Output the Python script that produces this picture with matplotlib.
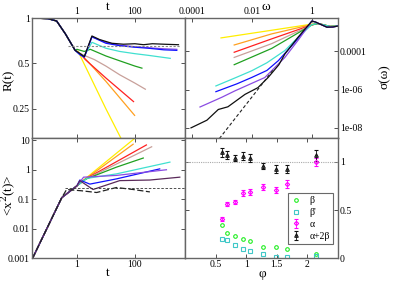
import numpy as np
import matplotlib
matplotlib.use("Agg")
import matplotlib.pyplot as plt
from matplotlib.ticker import FixedLocator, FixedFormatter, NullLocator

plt.rcParams['font.family'] = ['Liberation Serif', 'DejaVu Serif']
plt.rcParams['mathtext.fontset'] = 'dejavuserif'

# ---------------- data ----------------
colors = {'yellow': '#ffee00', 'orange': '#ffa020', 'red': '#ff2020', 'rosy': '#c8a09a',
          'green': '#20a020', 'cyan': '#40e0d0', 'purple': '#8a4be2', 'blue': '#1010ff',
          'black': '#101010', 'darkpurple': '#5a2a5a'}

# R(t) panel
R_t0 = [0.028, 0.1, 0.2, 0.4, 0.87]
R_v0 = [1.0, 0.99, 0.955, 0.785, 0.61]
R_tails = {
    'yellow': ([1.1, 10, 100], [0.6, 0.25, 0.105]),
    'orange': ([1.4, 10, 98], [0.575, 0.38, 0.226]),
    'red': ([1.3, 1.95, 10, 90], [0.58, 0.53, 0.40, 0.279]),
    'rosy': ([1.3, 2.0, 4.0, 10, 30, 100, 230], [0.58, 0.56, 0.53, 0.48, 0.42, 0.37, 0.337]),
    'green': ([1.0, 1.8, 2.9, 10, 30, 100, 175], [0.62, 0.60, 0.62, 0.56, 0.52, 0.48, 0.465]),
    'cyan': ([1.3, 1.8, 3.3, 10, 30, 100, 300, 1660], [0.57, 0.56, 0.69, 0.63, 0.60, 0.58, 0.565, 0.54]),
    'purple': ([1.3, 1.8, 3.3, 10, 30, 100, 300, 1000, 2800], [0.57, 0.55, 0.75, 0.69, 0.66, 0.645, 0.635, 0.625, 0.62]),
    'blue': ([1.3, 1.8, 3.3, 10, 30, 100, 300, 1000, 2800], [0.57, 0.55, 0.75, 0.68, 0.655, 0.64, 0.63, 0.615, 0.61]),
    'black': ([1.3, 1.8, 3.3, 6, 16, 40, 100, 200, 400, 1000, 3200],
              [0.58, 0.555, 0.76, 0.72, 0.68, 0.67, 0.675, 0.665, 0.675, 0.67, 0.665]),
}
R_plateau = 0.657

# sigma(omega) panel (log10 values)
S_tail_w = [0.0, 0.2, 0.4, 0.6, 0.87]
S_tail_s = [-2.58, -2.55, -2.62, -2.70, -2.68]
S_peak_w = [0.0, 0.12, 0.3, 0.5, 0.7, 0.87]
S_peak_s = [-2.42, -2.47, -2.60, -2.74, -2.73, -2.68]
S_curves = {
    'yellow': ([-3.03, -1.34, 0.0], [-3.30, -2.90, -2.58]),
    'orange': ([-2.59, -1.34, 0.0], [-3.67, -3.09, -2.60]),
    'red': ([-2.59, -1.34, 0.0], [-4.05, -3.35, -2.62]),
    'rosy': ([-2.59, -1.34, 0.0], [-4.32, -3.60, -2.62]),
    'green': ([-2.59, -1.34, 0.0], [-4.70, -3.85, -2.62]),
    'cyan': ([-3.2, -2.5, -2.01, -1.5, -0.9, -0.57, 0.0], [-5.81, -5.35, -5.02, -4.6, -3.96, -3.44, -2.6]),
    'blue': ([-3.2, -2.5, -2.01, -1.5, -1.12, -0.57], [-6.11, -5.7, -5.37, -5.0, -4.49, -3.53]),
    'purple': ([-3.73, -3.0, -2.57, -1.57, -0.9, -0.45], [-6.91, -6.4, -6.07, -5.37, -4.32, -3.4]),
    'black': ([-4.03, -3.5, -3.12, -2.8, -2.23, -1.8, -1.46, -1.1, -0.9, -0.46],
              [-8.0, -7.6, -7.04, -6.9, -6.25, -5.9, -5.37, -4.7, -4.14, -3.26]),
}
S_dash_w = [-3.2, -1.3]
S_dash_s = [-8.79, -4.99]

# <x^2(t)> panel
X_t0 = [0.029, 0.3, 1.0]
X_v0 = [0.00095, 0.111, 0.28]
X_tails = {
    'yellow': ([2.0, 100], [0.5, 11.5]),
    'orange': ([2.0, 87], [0.48, 7.2]),
    'red': ([2.0, 250], [0.48, 6.8]),
    'rosy': ([2.0, 380], [0.47, 5.9]),
    'green': ([2.0, 23, 195], [0.47, 1.2, 2.45]),
    'cyan': ([2.2, 23, 1620], [0.5, 0.71, 1.78]),
    'blue': ([1.26, 2.8, 23, 720], [0.44, 0.32, 0.48, 1.05]),
    'purple': ([1.7, 23, 1230], [0.55, 0.63, 0.98]),
    'darkpurple': ([1.26, 3.6, 30, 330, 3550], [0.42, 0.21, 0.42, 0.44, 0.55]),
}
X_dash_t = [0.029, 0.3, 0.44, 1.45, 4.8, 23, 87, 330]
X_dash_v = [0.00095, 0.111, 0.21, 0.19, 0.166, 0.245, 0.21, 0.174]
X_plateau = 0.235

# exponents panel
phi = [0.60, 0.69, 0.81, 0.95, 1.07, 1.27, 1.48, 1.67, 2.14]
beta = [0.34, 0.26, 0.23, 0.20, 0.18, 0.11, 0.11, 0.09, 0.04]
beta_p = [0.20, 0.19, 0.135, 0.09, 0.07, 0.04, 0.015, 0.015, 0.02]
alpha = [0.41, 0.56, 0.58, 0.68, 0.69, 0.74, 0.71, 0.77, 1.0]
alpha_err = [0.02, 0.02, 0.02, 0.03, 0.03, 0.03, 0.03, 0.04, 0.04]
a2b = [1.10, 1.07, 1.04, 1.06, 1.04, 0.96, 0.93, 0.93, 1.07]
a2b_err = [0.05, 0.04, 0.03, 0.04, 0.04, 0.03, 0.04, 0.04, 0.06]

# ---------------- figure ----------------
W, H = 399, 282
fig = plt.figure(figsize=(W/100, H/100), dpi=100)
L, M, R_ = 32/W, 185/W, 338/W
B, C, T = 1-258/H, 1-138/H, 1-18/H
ax1 = fig.add_axes([L, C, M-L, T-C])
ax2 = fig.add_axes([M, C, R_-M, T-C])
ax3 = fig.add_axes([L, B, M-L, C-B])
ax4 = fig.add_axes([M, B, R_-M, C-B])

fs = 7
lfs = 9.5
lw = 0.9
for ax in (ax1, ax2, ax3, ax4):
    for s in ax.spines.values():
        s.set_color('#666666')
        s.set_linewidth(1.0)
    ax.tick_params(direction='in', length=3, width=0.6, labelsize=fs, pad=1.5,
                   top=True, bottom=True, left=True, right=True, colors='#333333',
                   labelcolor='black')

# panel 1: R(t)
order1 = ['yellow', 'orange', 'red', 'rosy', 'green', 'cyan', 'purple', 'blue', 'black']
for k in order1:
    tt, vv = R_tails[k]
    ax1.plot(R_t0 + tt, R_v0 + vv, color=colors[k], lw=lw)
ax1.plot([0.5, 3500], [R_plateau, R_plateau], ls=(0, (2, 1.5)), color='#888888', lw=0.8)
ax1.set_xscale('log'); ax1.set_yscale('log')
ax1.set_xlim(10**-1.55, 10**3.73)
ax1.set_ylim(0.16, 1.0)
ax1.xaxis.set_major_locator(FixedLocator([1, 100]))
ax1.xaxis.set_major_formatter(FixedFormatter(['1', '100']))
ax1.xaxis.set_minor_locator(NullLocator())
ax1.yaxis.set_major_locator(FixedLocator([0.25, 0.5, 1]))
ax1.yaxis.set_major_formatter(FixedFormatter(['0.25', '0.5', '1']))
ax1.yaxis.set_minor_locator(NullLocator())
ax1.tick_params(labeltop=True, labelbottom=False)

# panel 2: sigma(omega)
order2 = ['yellow', 'orange', 'red', 'rosy', 'green', 'cyan', 'blue', 'purple', 'black']
for k in order2:
    w, s = S_curves[k]
    if k in ('blue', 'purple', 'black'):
        w2, s2 = list(w) + S_peak_w, list(s) + S_peak_s
    else:
        w2, s2 = list(w) + S_tail_w[1:], list(s) + S_tail_s[1:]
    ax2.plot(10**np.array(w2), 10**np.array(s2), color=colors[k], lw=lw)
ax2.plot(10**np.array(S_dash_w), 10**np.array(S_dash_s), color='#222222', lw=0.8, ls=(0, (3, 2)))
ax2.set_xscale('log'); ax2.set_yscale('log')
ax2.set_xlim(10**-4.23, 10**0.87)
ax2.set_ylim(10**-8.53, 10**-2.26)
ax2.xaxis.set_major_locator(FixedLocator([1e-4, 1e-2, 1]))
ax2.xaxis.set_major_formatter(FixedFormatter(['0.0001', '0.01', '1']))
ax2.xaxis.set_minor_locator(NullLocator())
ax2.yaxis.set_major_locator(FixedLocator([1e-8, 1e-6, 1e-4]))
ax2.yaxis.set_major_formatter(FixedFormatter(['1e-08', '1e-06', '0.0001']))
ax2.yaxis.set_minor_locator(NullLocator())
ax2.tick_params(labeltop=True, labelbottom=False, labelleft=False, labelright=True)

# panel 3: <x^2(t)>
order3 = ['yellow', 'orange', 'red', 'rosy', 'green', 'cyan', 'blue', 'purple', 'darkpurple']
for k in order3:
    tt, vv = X_tails[k]
    ax3.plot(X_t0 + tt, X_v0 + vv, color=colors[k], lw=lw)
ax3.plot(X_dash_t, X_dash_v, color='#222222', lw=0.9, ls=(0, (5, 2)))
ax3.plot([0.4, 5400], [X_plateau, X_plateau], color='#333333', lw=0.6, ls=(0, (3, 2)))
ax3.set_xscale('log'); ax3.set_yscale('log')
ax3.set_xlim(10**-1.55, 10**3.73)
ax3.set_ylim(0.001, 11.7)
ax3.xaxis.set_major_locator(FixedLocator([1, 100]))
ax3.xaxis.set_major_formatter(FixedFormatter(['1', '100']))
ax3.xaxis.set_minor_locator(NullLocator())
ax3.yaxis.set_major_locator(FixedLocator([0.001, 0.01, 0.1, 1, 10]))
ax3.yaxis.set_major_formatter(FixedFormatter(['0.001', '0.01', '0.1', '1', '10']))
ax3.yaxis.set_minor_locator(NullLocator())

# panel 4: exponents
ax4.axhline(1.0, color='#aaaaaa', lw=0.8, ls=(0, (1, 1)))
ms = 2.6
ax4.plot(phi, beta, ls='none', marker='o', mfc='none', mec='#22ee22', ms=ms, mew=0.8, label='β')
ax4.plot(phi, beta_p, ls='none', marker='s', mfc='none', mec='#40c8c8', ms=ms-0.3, mew=0.8, label="β'")
ax4.errorbar(phi, alpha, yerr=alpha_err, ls='none', marker='D', mfc='none', mec='#ff00ff',
             ecolor='#ff00ff', elinewidth=0.6, capsize=1.2, ms=ms-0.4, mew=0.8, label='α')
ax4.errorbar(phi, a2b, yerr=a2b_err, ls='none', marker='^', mfc='none', mec='#111111',
             ecolor='#111111', elinewidth=0.6, capsize=1.2, ms=ms, mew=0.8, label='α+2β')
ax4.set_xlim(0, 2.5)
ax4.set_ylim(0, 1.25)
ax4.xaxis.set_major_locator(FixedLocator([0.5, 1, 1.5, 2]))
ax4.xaxis.set_major_formatter(FixedFormatter(['0.5', '1', '1.5', '2']))
ax4.yaxis.set_major_locator(FixedLocator([0, 0.5, 1]))
ax4.yaxis.set_major_formatter(FixedFormatter(['0', '0.5', '1']))
ax4.tick_params(labelleft=False, labelright=True)
leg = ax4.legend(loc='lower right', bbox_to_anchor=(0.97, 0.115), fontsize=7, frameon=True,
                 fancybox=False, edgecolor='#444444', handlelength=1.0, handletextpad=0.9,
                 borderpad=0.35, labelspacing=0.3, borderaxespad=0)
leg.get_frame().set_linewidth(0.8)

# axis labels placed at their pixel positions
fig.text(108/W, 1 - 7.5/H, 't', fontsize=lfs, ha='center', va='center')
fig.text(266/W, 1 - 7.5/H, 'ω', fontsize=lfs, ha='center', va='center')
fig.text(9/W, 1 - 80/H, 'R(t)', fontsize=lfs, ha='center', va='center', rotation=90)
fig.text(385/W, 1 - 77/H, 'σ(ω)', fontsize=lfs, ha='center', va='center', rotation=90)
fig.text(9/W, 1 - 195/H, r'<x$^2$(t)>', fontsize=lfs, ha='center', va='center', rotation=90)
fig.text(108/W, 1 - 273/H, 't', fontsize=lfs, ha='center', va='center')
fig.text(262/W, 1 - 274/H, 'φ', fontsize=lfs, ha='center', va='center')

fig.savefig('out.png', dpi=100)
